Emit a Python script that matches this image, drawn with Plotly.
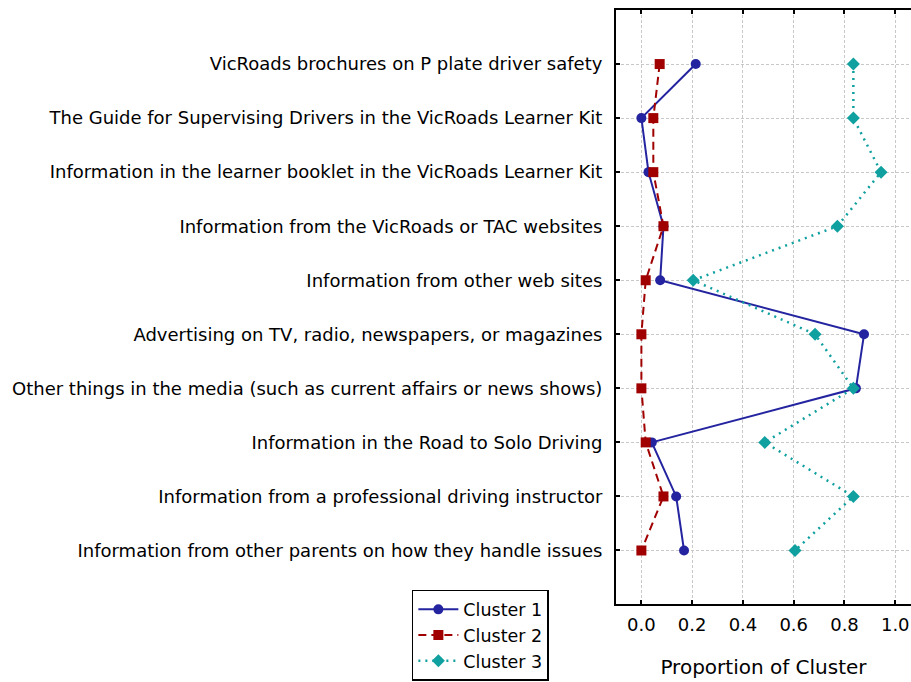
import plotly.graph_objects as go

categories = [
    "VicRoads brochures on P plate driver safety",
    "The Guide for Supervising Drivers in the VicRoads Learner Kit",
    "Information in the learner booklet in the VicRoads Learner Kit",
    "Information from the VicRoads or TAC websites",
    "Information from other web sites",
    "Advertising on TV, radio, newspapers, or magazines",
    "Other things in the media (such as current affairs or news shows)",
    "Information in the Road to Solo Driving",
    "Information from a professional driving instructor",
    "Information from other parents on how they handle issues",
]
cluster1 = [0.214, 0.000, 0.028, 0.087, 0.074, 0.877, 0.845, 0.041, 0.137, 0.168]
cluster2 = [0.072, 0.047, 0.047, 0.087, 0.017, 0.000, 0.000, 0.017, 0.087, 0.000]
cluster3 = [0.835, 0.835, 0.944, 0.772, 0.204, 0.684, 0.835, 0.486, 0.835, 0.605]
x_ticks = [0.0, 0.2, 0.4, 0.6, 0.8, 1.0]

FONT = "DejaVu Sans, Liberation Sans, Arial, sans-serif"

fig = go.Figure()
fig.add_trace(go.Scatter(
    x=cluster1, y=categories, name="Cluster 1", mode="lines+markers",
    line=dict(color="#2424A0", width=2),
    marker=dict(symbol="circle", size=10, color="#2424A0"),
))
fig.add_trace(go.Scatter(
    x=cluster2, y=categories, name="Cluster 2", mode="lines+markers",
    line=dict(color="#A00000", width=2, dash="8px,5px"),
    marker=dict(symbol="square", size=10, color="#A00000"),
))
fig.add_trace(go.Scatter(
    x=cluster3, y=categories, name="Cluster 3", mode="lines+markers",
    line=dict(color="#10A0A0", width=2.5, dash="2px,5px"),
    marker=dict(symbol="diamond", size=10, color="#10A0A0"),
))

fig.update_layout(
    width=911, height=682,
    margin=dict(l=616, r=0, t=10, b=78, autoexpand=False),
    paper_bgcolor="white", plot_bgcolor="white",
    font=dict(family=FONT, size=18, color="black"),
    showlegend=True,
    legend=dict(
        x=-0.692, y=0.0236, xanchor="left", yanchor="top",
        bordercolor="black", borderwidth=1.5, bgcolor="white",
        font=dict(family=FONT, size=17.5, color="black"),
        tracegroupgap=0, itemwidth=40,
    ),
    xaxis=dict(
        range=[-0.1, 1.062], tickvals=x_ticks, tickformat=".1f",
        showline=True, linecolor="black", linewidth=2, mirror="ticks",
        ticks="inside", ticklen=4, tickwidth=1.5, tickcolor="black",
        showgrid=True, gridcolor="#c8c8c8", griddash="3px,2px", gridwidth=1,
        zeroline=False, ticklabelstandoff=3, automargin=False,
        tickfont=dict(size=18),
        title=dict(text="Proportion of Cluster", font=dict(size=20), standoff=26),
    ),
    yaxis=dict(
        type="category", categoryorder="array", categoryarray=categories,
        range=[9.99, -1.0],
        showline=True, linecolor="black", linewidth=2, mirror=False,
        ticks="inside", ticklen=4, tickwidth=1.5, tickcolor="black",
        showgrid=True, gridcolor="#c8c8c8", griddash="3px,2px", gridwidth=1,
        zeroline=False, ticklabelstandoff=8, automargin=False,
        tickfont=dict(size=18),
    ),
)

fig.write_html(
    "out.html",
    config={"displayModeBar": False},
    post_script="document.body.style.margin='0';document.body.style.overflow='hidden';",
)
